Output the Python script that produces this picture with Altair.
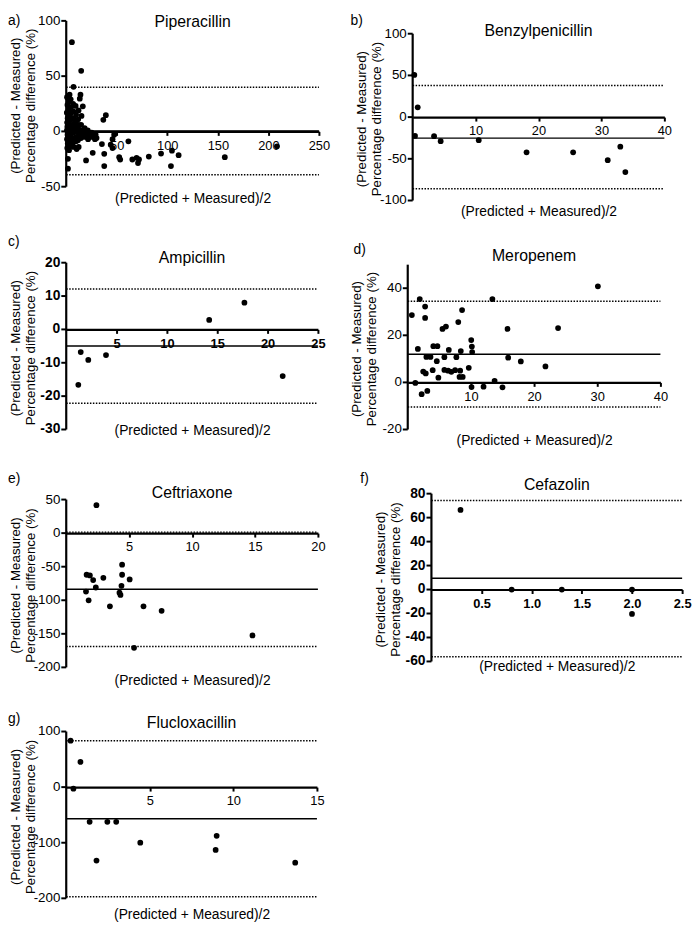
import altair as alt
import pandas as pd

FONT = "Liberation Sans"

letters = ["a)", "b)", "c)", "d)", "e)", "f)", "g)"]
drugs = ["Piperacillin", "Benzylpenicillin", "Ampicillin", "Meropenem",
         "Ceftriaxone", "Cefazolin", "Flucloxacillin"]
y_title = ["(Predicted - Measured)", "Percentage difference (%)"]
x_title = "(Predicted + Measured)/2"

# ---- data ----
a_x = [5.6, 14.8, 7.2, 3.3, 14.1, 13.4, 16.4, 39.2, 36.7, 1.7, 1.7, 19.6, 26.2, 37.6,
       37.6, 35.3, 30.0, 45.8, 47.4, 44.0, 45.8, 52.4, 53.4, 61.5, 65.4, 69.6, 71.0,
       72.0, 81.7, 93.8, 104.6, 111.2, 103.6, 156.9, 208.5,
       0.8, 1.2, 0.6, 1.4, 0.9, 1.1, 0.7, 1.3, 0.8, 1.5, 1.0,
       2.6, 2.3, 2.8, 2.2, 2.9, 2.4, 2.7, 2.1, 3.0, 2.5, 2.8,
       4.4, 4.9, 4.2, 4.7, 4.5, 5.0, 4.3, 4.8, 4.6,
       6.8, 7.3, 6.9, 7.5, 6.6, 7.1, 7.4, 6.7, 7.2,
       9.3, 9.8, 9.5, 10.1, 9.2, 9.9, 9.6, 10.3,
       12.2, 11.8, 12.5, 12.0, 12.7, 11.6, 12.3,
       15.1, 14.7, 15.4, 15.0, 14.6,
       18.2, 17.8, 18.5, 21.3, 20.8, 21.6, 25.2, 24.7, 29.1, 28.4]
a_y = [80.7, 54.8, 40.3, 33.2, 33.2, 29.6, 22.7, 14.7, 10.5, -24.8, -33.7, -26.3, -19.4,
       -31.3, -20.3, -11.4, -6.0, -7.0, -3.0, -12.0, -15.0, -23.3, -25.5, -9.0, -25.4,
       -23.9, -28.6, -25.4, -22.7, -20.0, -17.4, -21.5, -31.3, -23.3, -13.5,
       31, 24, 17, 12, 8, 4, 1, -3, -7, -11, -15,
       27, 20, 14, 9, 5, 2, -2, -5, -9, -13, -17,
       29, 22, 16, 11, 6, 0, -4, -8, -12,
       25, 18, 12, 7, 3, -1, -6, -10, -14,
       23, 15, 9, 4, 0, -5, -9, -16,
       19, 11, 6, 2, -3, -8, -14,
       14, 6, 1, -2, -6,
       3, -1, -5, 1, -3, -7, -1, -5, -3, -7]

b_x = [0.26, 0.8, 0.37, 3.4, 4.45, 10.5, 18.1, 25.5, 31.0, 33.0, 33.8]
b_y = [50.5, 11.8, -22.5, -22.9, -28.8, -27.6, -42.2, -42.2, -51.7, -35.5, -65.9]

c_x = [1.2, 1.44, 2.19, 3.95, 14.2, 17.7, 21.5]
c_y = [-16.6, -6.8, -9.15, -7.7, 2.85, 8.0, -14.0]

d_x = [0.65, 1.9, 2.75, 2.75, 1.6, 1.2, 2.2, 3.1, 2.45, 2.85, 2.95, 3.6, 4.05, 4.7,
       4.6, 3.95, 4.85, 5.5, 6.05, 5.8, 5.8, 6.5, 6.4, 6.9, 7.5, 8.0, 7.7, 8.4, 8.6,
       8.3, 8.2, 8.7, 9.66, 10.05, 10.15, 10.2, 10.1, 12.0, 13.4, 13.75, 15.0, 15.8,
       15.9, 17.9, 21.8, 23.8, 30.1]
d_y = [28.6, 35.4, 32.2, 27.4, 14.2, -0.2, -5.0, -3.6, 4.6, 3.8, 10.8, 10.8, 15.4, 15.4,
       9.0, 5.2, 2.0, 22.7, 23.7, 10.7, 5.3, 13.8, 5.0, 4.5, 5.2, 25.6, 10.7, 13.3, 30.7,
       5.0, 2.3, 2.3, 6.2, 18.0, 15.2, 12.9, -2.0, -1.8, 35.4, 0.7, -2.1, 22.7,
       10.5, 8.9, 6.8, 23.1, 40.8]

e_x = [2.4, 1.62, 1.88, 2.14, 2.35, 1.57, 1.78, 2.95, 3.47, 4.44, 4.44, 5.04, 4.39,
       4.23, 4.31, 5.39, 6.14, 7.58, 14.8]
e_y = [41.7, -62.0, -63.0, -70.0, -81.0, -87.0, -100.0, -66.5, -109.0, -47.0, -62.0,
       -69.0, -78.5, -88.7, -92.0, -170.8, -109.0, -115.7, -152.5]

f_x = [0.29, 0.8, 1.3, 2.0, 2.0]
f_y = [66.4, 0.0, 0.0, 0.0, -20.4]

g_x = [0.26, 0.85, 0.43, 1.4, 2.46, 2.99, 1.81, 4.43, 9.0, 8.94, 13.7]
g_y = [83.5, 45.3, -2.9, -62.4, -62.4, -62.4, -132.0, -100.0, -87.6, -113.0, -136.0]

xs = [a_x, b_x, c_x, d_x, e_x, f_x, g_x]
ys = [a_y, b_y, c_y, d_y, e_y, f_y, g_y]

means = [0.4, -25.2, -5.0, 12.0, -83.7, 9.4, -57.0]
uppers = [40.0, 37.8, 12.1, 34.5, 1.5, 74.2, 83.5]
lowers = [-39.2, -86.0, -22.1, -10.4, -169.0, -56.0, -197.0]

x_domains = [[0, 250], [0, 40], [0, 25], [0, 40], [0, 20], [0, 2.5], [0, 15]]
y_domains = [[-50, 100], [-100, 100], [-30, 20], [-20, 50], [-200, 50], [-60, 80], [-200, 100]]
x_ticks = [[50, 100, 150, 200, 250], [10, 20, 30, 40], [5, 10, 15, 20, 25], [10, 20, 30, 40],
           [5, 10, 15, 20], [0.5, 1.0, 1.5, 2.0, 2.5], [5, 10, 15]]
y_ticks = [[-50, 0, 50, 100], [-100, -50, 0, 50, 100], [-30, -20, -10, 0, 10, 20],
           [-20, 0, 20, 40], [-200, -150, -100, -50, 0, 50],
           [-60, -40, -20, 0, 20, 40, 60, 80], [-200, -100, 0, 100]]
x_formats = ["d", "d", "d", "d", "d", ".1f", "d"]
bold = [False, False, True, False, False, True, False]

# ---- layout (page pixels) ----
plot_boxes = [(67, 15, 323, 183), (418, 28, 673, 197), (67, 260, 322, 429),
              (413, 262, 669, 429), (67, 500, 322, 670), (437, 494, 691, 664),
              (67, 735, 321, 904)]
x_title_dy = [5, 4, -6, 4, 6, -2, 9]
letter_abs = [(8, 19), (355, 19), (8, 243), (358, 251), (8, 483), (365, 483), (8, 726)]
title_base_abs = [21, 30, 260, 258.5, 498, 490, 731]
ytitle_dx = [-51, -36]

n_rows = 4
row_top = [min(plot_boxes[j][1] for j in range(7) if j // 2 == r) for r in range(n_rows)]
col_left = [min(plot_boxes[j][0] for j in range(7) if j % 2 == c) for c in range(2)]

panels = []
for i in range(7):
    L, T, R, B = plot_boxes[i]
    pw, ph = R - L, B - T
    col, row = i % 2, i // 2
    gtop, gleft = row_top[row], col_left[col]
    yt, xl = T - gtop, L - gleft
    H = (row_top[row + 1] - gtop) if row + 1 < n_rows else yt + ph
    W = (col_left[1] - gleft) if col == 0 else xl + pw

    ymin, ymax = y_domains[i]
    y0 = yt + ph * ymax / (ymax - ymin)
    wt = "bold" if bold[i] else "normal"

    xscale = alt.Scale(domain=x_domains[i], range=[xl, xl + pw], nice=False, zero=False)
    yscale = alt.Scale(domain=[ymin, ymax], range=[yt + ph, yt], nice=False, zero=False)

    xaxis1 = alt.Axis(values=x_ticks[i], format=x_formats[i], orient="bottom",
                      offset=y0 - H, tickSize=4, tickWidth=2, domainWidth=2.2,
                      domainColor="black", tickColor="black",
                      labelFontSize=13, labelFontWeight=wt, labelPadding=4,
                      labelFlush=False, labelOverlap=False, grid=False, title=None)
    xaxis2 = alt.Axis(orient="bottom", offset=(yt + ph) - H + x_title_dy[i],
                      labels=False, ticks=False, domain=False, grid=False,
                      title=x_title, titleFontSize=14, titleFontWeight="normal",
                      titlePadding=0)

    pts_df = pd.DataFrame({"x": xs[i], "y": ys[i]})
    mean_df = pd.DataFrame({"x0": [x_domains[i][0]], "x1": [x_domains[i][1]], "y": [means[i]]})
    lim_df = pd.DataFrame({"x0": [x_domains[i][0]] * 2, "x1": [x_domains[i][1]] * 2,
                           "y": [uppers[i], lowers[i]]})
    yline_df = pd.DataFrame({"xv": [x_domains[i][0]], "y0": [ymin], "y1": [ymax]})
    ytick_df = pd.DataFrame({"v": y_ticks[i], "lab": [str(int(v)) for v in y_ticks[i]]})

    pts = alt.Chart(pts_df).mark_circle(size=34, color="black", opacity=1).encode(
        x=alt.X("x:Q", scale=xscale, axis=xaxis1),
        y=alt.Y("y:Q", scale=yscale, axis=None))
    lim = alt.Chart(lim_df).mark_rule(color="black", strokeWidth=1.5,
                                      strokeDash=[1.5, 1.5]).encode(
        x=alt.X("x0:Q", scale=xscale, axis=None), x2="x1:Q",
        y=alt.Y("y:Q", scale=yscale, axis=None))
    mean = alt.Chart(mean_df).mark_rule(color="black", strokeWidth=1.5).encode(
        x=alt.X("x0:Q", scale=xscale, axis=xaxis2), x2="x1:Q",
        y=alt.Y("y:Q", scale=yscale, axis=None))
    yline = alt.Chart(yline_df).mark_rule(color="black", strokeWidth=2.2).encode(
        x=alt.X("xv:Q", scale=xscale, axis=None),
        y=alt.Y("y0:Q", scale=yscale, axis=None), y2="y1:Q")
    yticks = alt.Chart(ytick_df).mark_rule(color="black", strokeWidth=2).encode(
        x=alt.value(xl - 5), x2=alt.value(xl),
        y=alt.Y("v:Q", scale=yscale, axis=None))
    ylabels = alt.Chart(ytick_df).mark_text(
        align="right", baseline="middle", color="black",
        fontSize=14 if bold[i] else 13.5, fontWeight=wt).encode(
        x=alt.value(xl - 6), y=alt.Y("v:Q", scale=yscale, axis=None), text="lab:N")
    ytitles = [
        alt.Chart(pd.DataFrame({"t": [y_title[k]]})).mark_text(
            angle=270, align="center", baseline="middle", fontSize=13.5,
            color="black").encode(
            x=alt.value(xl + ytitle_dx[k]), y=alt.value(yt + ph / 2 + 2), text="t:N")
        for k in range(2)
    ]
    lx, ly = letter_abs[i]
    letter = alt.Chart(pd.DataFrame({"t": [letters[i]]})).mark_text(
        fontSize=14, align="left", baseline="alphabetic", color="black").encode(
        x=alt.value(lx - gleft), y=alt.value(ly - gtop), text="t:N")
    name = alt.Chart(pd.DataFrame({"t": [drugs[i]]})).mark_text(
        fontSize=16, align="center", baseline="alphabetic", color="black").encode(
        x=alt.value(xl + pw / 2), y=alt.value(title_base_abs[i] - gtop), text="t:N")

    panel = alt.layer(lim, mean, pts, yline, yticks, ylabels, *ytitles, letter, name
                      ).resolve_axis(x="independent").properties(width=W, height=H)
    panels.append(panel)

chart = alt.concat(*panels, columns=2, spacing=0).properties(
    align="each", bounds="flush", padding=0
).configure(font=FONT).configure_view(stroke=None).configure_axis(
    labelFont=FONT, titleFont=FONT, labelColor="black", titleColor="black"
).configure_text(font=FONT)

chart.save("out.html", embed_options={"renderer": "svg", "actions": False})
